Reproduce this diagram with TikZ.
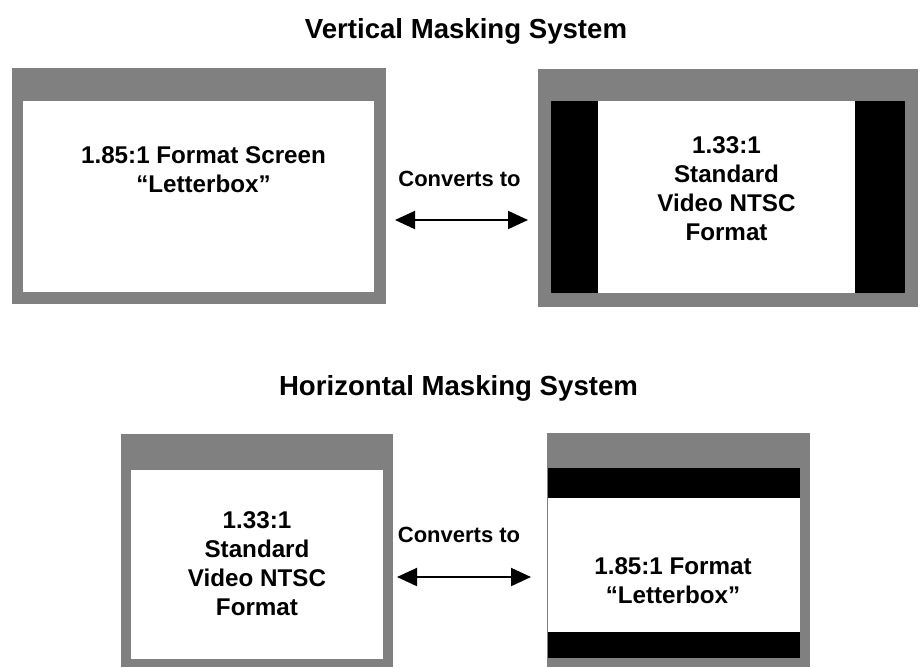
\documentclass[tikz,border=0pt]{standalone}
\usepackage{fontspec}
\setmainfont{Liberation Sans}
\usetikzlibrary{arrows.meta,positioning}
\definecolor{maskgray}{RGB}{128,128,128}

\begin{document}
\begin{tikzpicture}[x=1pt,y=-1pt,
masktitle/.style={font=\bfseries\fontsize{27.6}{32}\selectfont, anchor=base, inner sep=0pt},
screentext/.style={font=\bfseries\fontsize{24.2}{29}\selectfont, align=center, inner sep=0pt},
convtext/.style={font=\bfseries\fontsize{22}{26}\selectfont, anchor=base, inner sep=0pt},
convarrow/.style={{Triangle[length=20pt,width=18pt]}-{Triangle[length=20pt,width=18pt]}, line width=2pt}
]
\useasboundingbox (0,0) rectangle (920,667);

% vertical masking
\fill[maskgray] (12,68) rectangle (386,304);
\fill[white] (23,101) rectangle (374,292);
\fill[maskgray] (538,69) rectangle (918,307);
\fill[black] (551,101) rectangle (905,293);
\fill[white] (598,101) rectangle (855,293);

\node[masktitle] (vtitle) at (466,38) {Vertical Masking System};
\node[screentext] (vwide) at (203.5,170) {1.85:1 Format Screen\\“Letterbox”};
\node[screentext] (vnarrow) at (726.5,188.5) {1.33:1\\Standard\\Video NTSC\\Format};
\node[convtext] (vconv) at (459.5,186) {Converts to};
\coordinate (vleft) at (395,220);
\coordinate (vright) at (528,220);
\draw[convarrow] (vleft) -- (vright);

% horizontal masking
\fill[maskgray] (121,434) rectangle (393,667);
\fill[white] (131,470) rectangle (383,659);
\fill[maskgray] (547,433) rectangle (810,667);
\fill[black] (548,468) rectangle (800,658);
\fill[white] (548,498) rectangle (800,632);

\node[masktitle] (htitle) at (458.5,395) {Horizontal Masking System};
\node[screentext] (hnarrow) at (257,563.5) {1.33:1\\Standard\\Video NTSC\\Format};
\node[screentext] (hwide) at (673,580.5) {1.85:1 Format\\“Letterbox”};
\node[convtext] (hconv) at (459,542.5) {Converts to};
\coordinate (hleft) at (397,577);
\coordinate (hright) at (531,577);
\draw[convarrow] (hleft) -- (hright);

\end{tikzpicture}
\end{document}
